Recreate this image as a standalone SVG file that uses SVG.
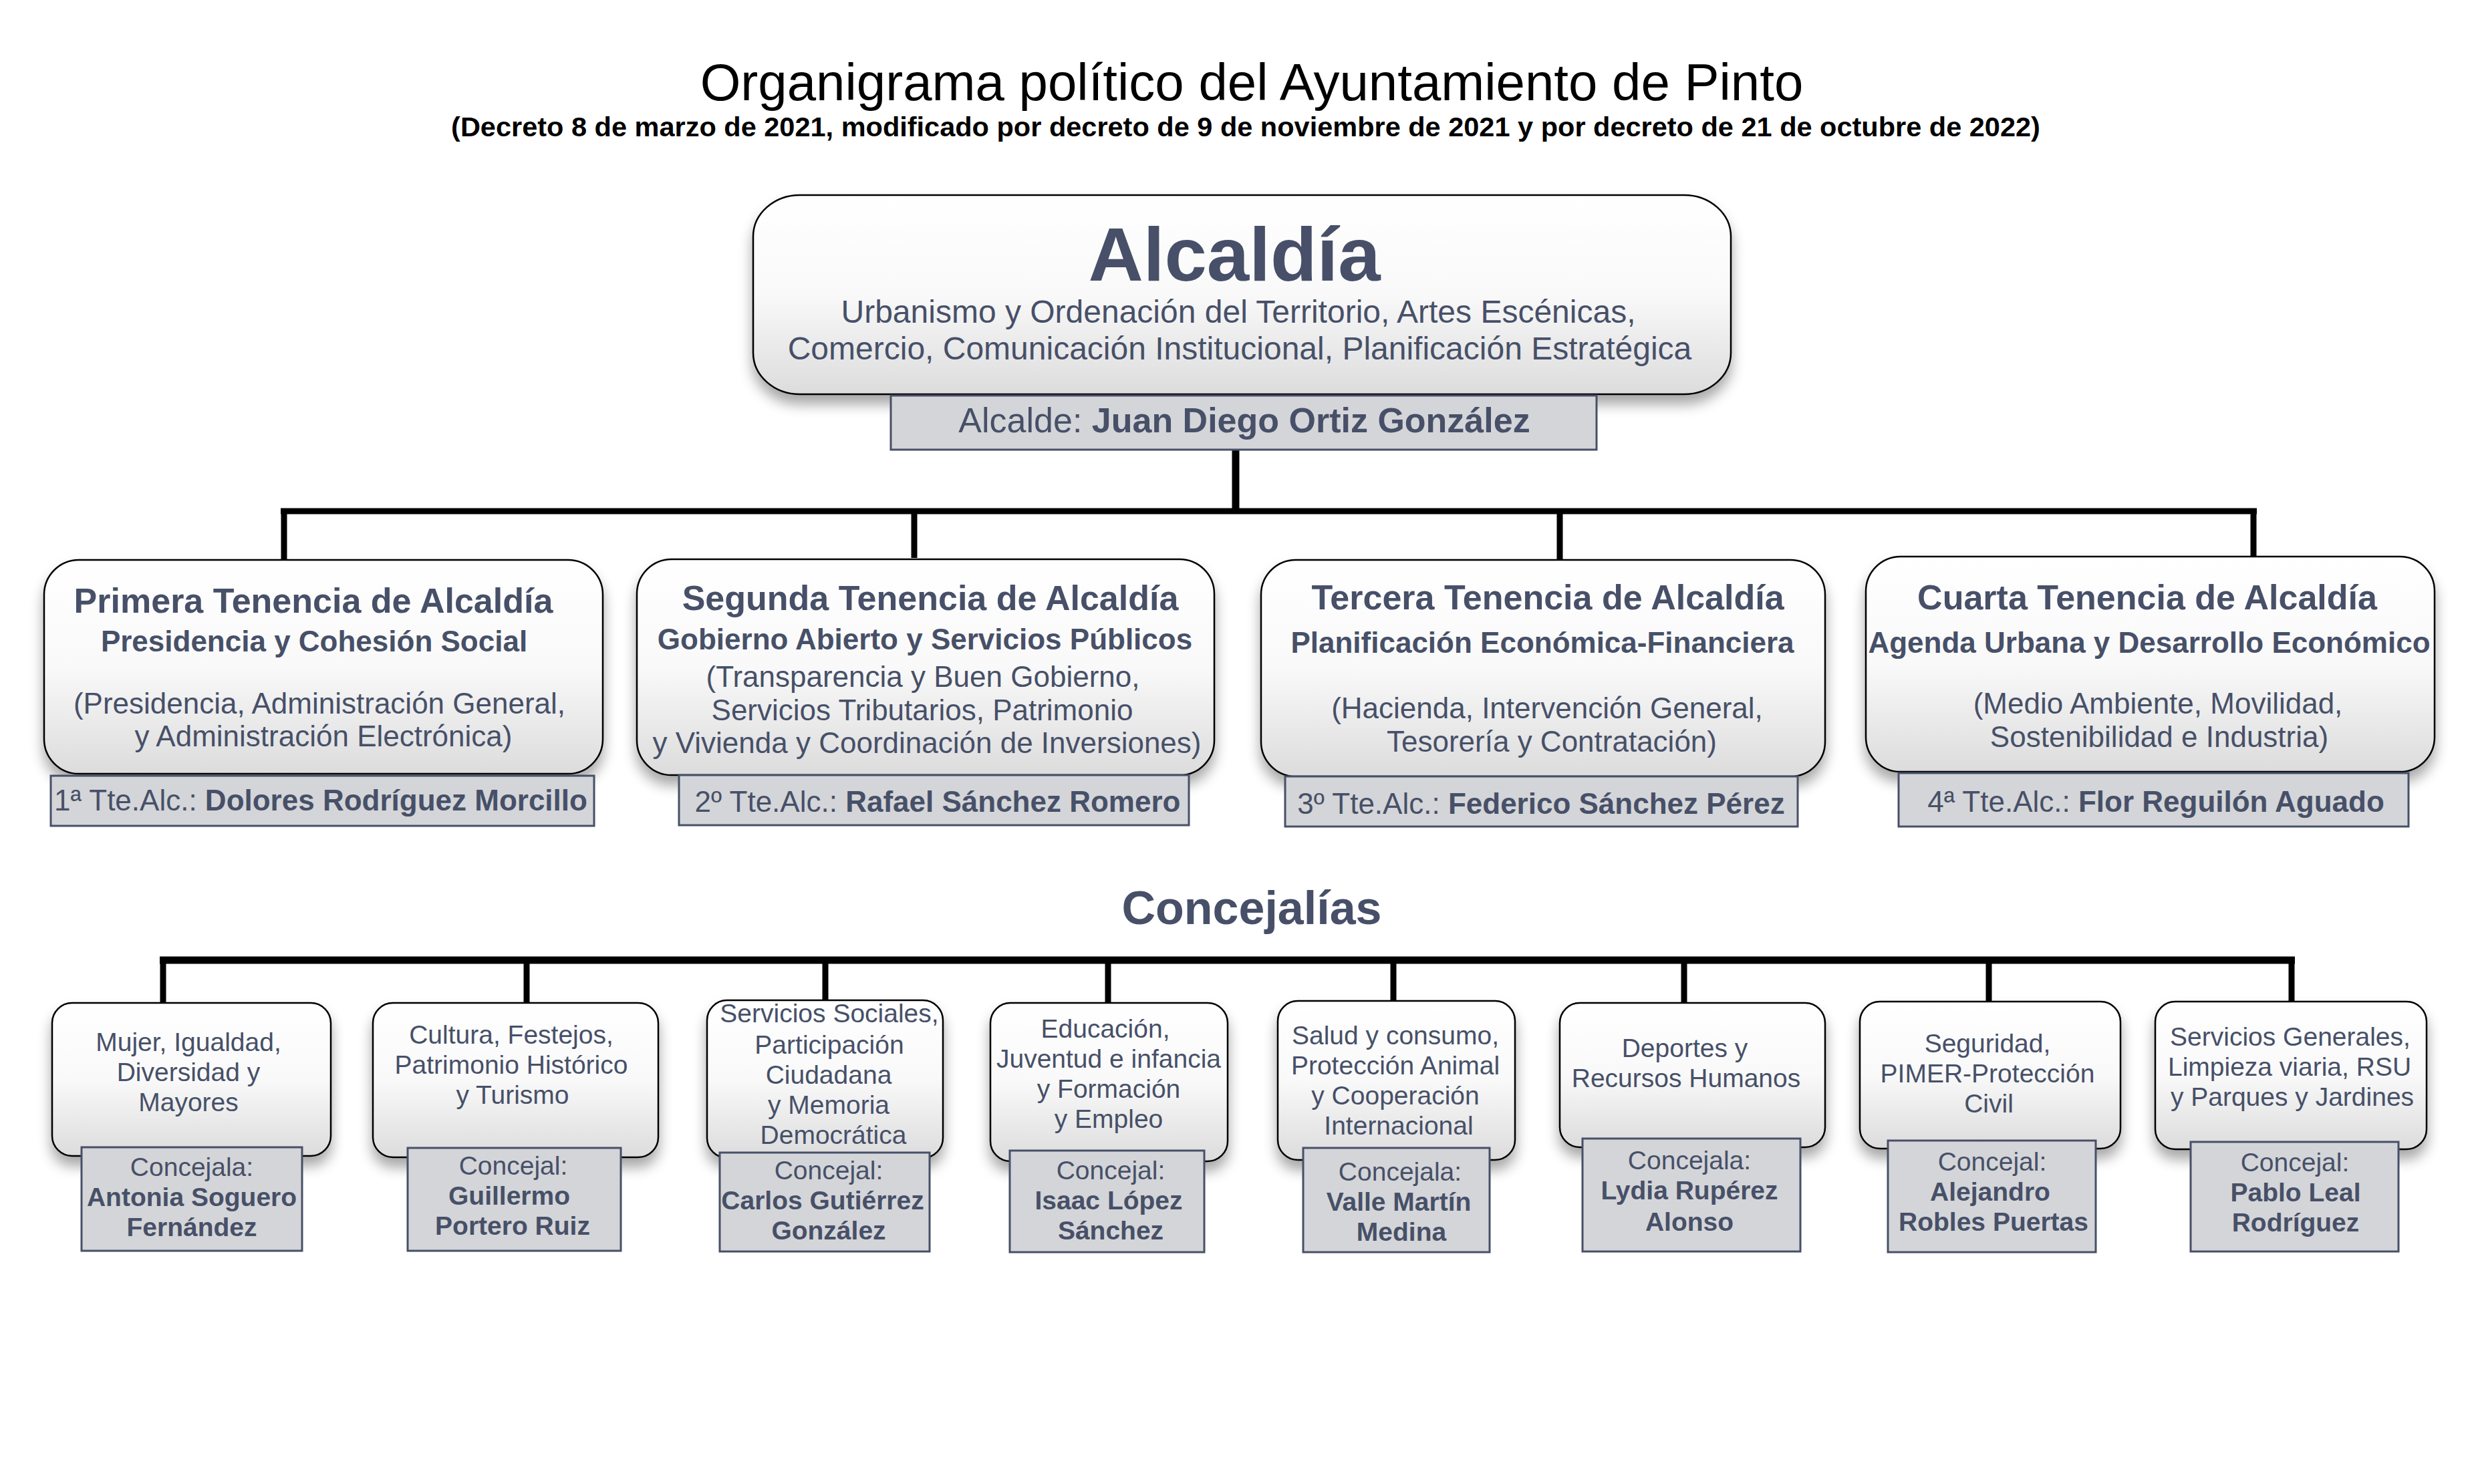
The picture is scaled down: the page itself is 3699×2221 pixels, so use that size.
<svg xmlns="http://www.w3.org/2000/svg" width="3699" height="2221" viewBox="0 0 3699 2221">
<defs>
<linearGradient id="g" x1="0" y1="0" x2="0" y2="1">
<stop offset="0" stop-color="#ffffff"/>
<stop offset="0.5" stop-color="#f9f9f9"/>
<stop offset="1" stop-color="#dcdcdd"/>
</linearGradient>
<filter id="sh" x="-10%" y="-10%" width="120%" height="130%">
<feGaussianBlur in="SourceAlpha" stdDeviation="10"/>
<feOffset dx="0" dy="14" result="b"/>
<feComponentTransfer><feFuncA type="linear" slope="0.35"/></feComponentTransfer>
<feMerge><feMergeNode/><feMergeNode in="SourceGraphic"/></feMerge>
</filter>
</defs>
<style>
text{font-family:"Liberation Sans",Arial,sans-serif;fill:#475068;text-anchor:middle}
.box{fill:url(#g);stroke:#000;stroke-width:2.5;filter:url(#sh)}
.nb{fill:#d4d5d8;stroke:#475068;stroke-width:3}
.b{font-weight:bold}
.t1{font-size:78px;fill:#000}
.t2{font-size:41.5px;font-weight:bold;fill:#000}
.big{font-size:114px;font-weight:bold}
.al{font-size:48px}
.an{font-size:52px}
.tt{font-size:52px;font-weight:bold}
.ts{font-size:44px;font-weight:bold}
.tb{font-size:44px}
.c{font-size:39px}
.ct{font-size:70px;font-weight:bold}
.ln{stroke:#000;fill:none}
</style>
<rect width="3699" height="2221" fill="#fff"/>
<text class="t1" x="1873" y="150">Organigrama político del Ayuntamiento de Pinto</text>
<text class="t2" x="1864" y="204">(Decreto 8 de marzo de 2021, modificado por decreto de 9 de noviembre de 2021 y por decreto de 21 de octubre de 2022)</text>

<g id="connectors">
<path class="ln" stroke-width="11" d="M1849 673V765"/>
<path class="ln" stroke-width="9" d="M420 765H3377"/>
<path class="ln" stroke-width="9" d="M425 765V837M1368 765V835M2334 765V838M3372 765V833"/>
<path class="ln" stroke-width="11" d="M239 1437H3434"/>
<path class="ln" stroke-width="9" d="M244 1437V1501M788 1437V1501M1235 1437V1497M1658 1437V1501M2085 1437V1498M2520 1437V1501M2976 1437V1499M3429 1437V1499"/>
</g>

<g id="alcaldia">
<rect class="box" x="1127" y="292" width="1463" height="298" rx="70" ry="62"/>
<text class="big" x="1847" y="420">Alcaldía</text>
<text class="al" x="1853" y="483">Urbanismo y Ordenación del Territorio, Artes Escénicas,</text>
<text class="al" x="1855" y="538">Comercio, Comunicación Institucional, Planificación Estratégica</text>
<rect class="nb" x="1333" y="592" width="1056" height="81"/>
<text class="an" x="1862" y="647">Alcalde: <tspan class="b">Juan Diego Ortiz González</tspan></text>
</g>

<g id="tenencia1">
<rect class="box" x="66" y="838" width="836" height="320" rx="52" ry="52"/>
<text class="tt" x="469" y="917">Primera Tenencia de Alcaldía</text>
<text class="ts" x="470" y="975">Presidencia y Cohesión Social</text>
<text class="tb" x="478" y="1068">(Presidencia, Administración General,</text>
<text class="tb" x="484" y="1117">y Administración Electrónica)</text>
<rect class="nb" x="76" y="1161" width="813" height="75"/>
<text class="tb" x="480" y="1213">1ª Tte.Alc.: <tspan class="b">Dolores Rodríguez Morcillo</tspan></text>
</g>

<g id="tenencia2">
<rect class="box" x="953" y="837" width="864" height="323" rx="52" ry="52"/>
<text class="tt" x="1392" y="913">Segunda Tenencia de Alcaldía</text>
<text class="ts" x="1384" y="972">Gobierno Abierto y Servicios Públicos</text>
<text class="tb" x="1381" y="1028">(Transparencia y Buen Gobierno,</text>
<text class="tb" x="1380" y="1078">Servicios Tributarios, Patrimonio</text>
<text class="tb" x="1387" y="1127">y Vivienda y Coordinación de Inversiones)</text>
<rect class="nb" x="1016" y="1160" width="763" height="75"/>
<text class="tb" x="1403" y="1215">2º Tte.Alc.: <tspan class="b">Rafael Sánchez Romero</tspan></text>
</g>

<g id="tenencia3">
<rect class="box" x="1887" y="838" width="844" height="324" rx="52" ry="52"/>
<text class="tt" x="2316" y="912">Tercera Tenencia de Alcaldía</text>
<text class="ts" x="2308" y="977">Planificación Económica-Financiera</text>
<text class="tb" x="2315" y="1075">(Hacienda, Intervención General,</text>
<text class="tb" x="2322" y="1125">Tesorería y Contratación)</text>
<rect class="nb" x="1923" y="1162" width="767" height="75"/>
<text class="tb" x="2306" y="1218">3º Tte.Alc.: <tspan class="b">Federico Sánchez Pérez</tspan></text>
</g>

<g id="tenencia4">
<rect class="box" x="2792" y="833" width="851" height="322" rx="52" ry="52"/>
<text class="tt" x="3213" y="912">Cuarta Tenencia de Alcaldía</text>
<text class="ts" x="3216" y="977">Agenda Urbana y Desarrollo Económico</text>
<text class="tb" x="3229" y="1068">(Medio Ambiente, Movilidad,</text>
<text class="tb" x="3231" y="1118">Sostenibilidad e Industria)</text>
<rect class="nb" x="2841" y="1157" width="763" height="80"/>
<text class="tb" x="3226" y="1215">4ª Tte.Alc.: <tspan class="b">Flor Reguilón Aguado</tspan></text>
</g>

<text class="ct" x="1873" y="1383">Concejalías</text>

<g id="concejalia1">
<rect class="box" x="78" y="1501" width="417" height="229" rx="30" ry="30"/>
<text class="c" x="282" y="1573">Mujer, Igualdad,</text>
<text class="c" x="282" y="1618">Diversidad y</text>
<text class="c" x="282" y="1663">Mayores</text>
<rect class="nb" x="122" y="1717" width="330" height="155"/>
<text class="c" x="287" y="1760">Concejala:</text>
<text class="c b" x="287" y="1805">Antonia Soguero</text>
<text class="c b" x="287" y="1850">Fernández</text>
</g>

<g id="concejalia2">
<rect class="box" x="558" y="1501" width="427" height="231" rx="30" ry="30"/>
<text class="c" x="765" y="1562">Cultura, Festejos,</text>
<text class="c" x="765" y="1607">Patrimonio Histórico</text>
<text class="c" x="767" y="1652">y Turismo</text>
<rect class="nb" x="610" y="1718" width="319" height="154"/>
<text class="c" x="768" y="1758">Concejal:</text>
<text class="c b" x="762" y="1803">Guillermo</text>
<text class="c b" x="767" y="1848">Portero Ruiz</text>
</g>

<g id="concejalia3">
<rect class="box" x="1058" y="1497" width="353" height="236" rx="30" ry="30"/>
<text class="c" x="1241" y="1530">Servicios Sociales,</text>
<text class="c" x="1241" y="1577">Participación</text>
<text class="c" x="1240" y="1622">Ciudadana</text>
<text class="c" x="1240" y="1667">y Memoria</text>
<text class="c" x="1247" y="1712">Democrática</text>
<rect class="nb" x="1077" y="1725" width="314" height="148"/>
<text class="c" x="1240" y="1765">Concejal:</text>
<text class="c b" x="1231" y="1810">Carlos Gutiérrez</text>
<text class="c b" x="1240" y="1855">González</text>
</g>

<g id="concejalia4">
<rect class="box" x="1482" y="1501" width="355" height="237" rx="30" ry="30"/>
<text class="c" x="1654" y="1553">Educación,</text>
<text class="c" x="1659" y="1598">Juventud e infancia</text>
<text class="c" x="1659" y="1643">y Formación</text>
<text class="c" x="1659" y="1688">y Empleo</text>
<rect class="nb" x="1511" y="1722" width="291" height="152"/>
<text class="c" x="1662" y="1765">Concejal:</text>
<text class="c b" x="1659" y="1810">Isaac López</text>
<text class="c b" x="1662" y="1855">Sánchez</text>
</g>

<g id="concejalia5">
<rect class="box" x="1912" y="1498" width="355" height="238" rx="30" ry="30"/>
<text class="c" x="2088" y="1563">Salud y consumo,</text>
<text class="c" x="2088" y="1608">Protección Animal</text>
<text class="c" x="2088" y="1653">y Cooperación</text>
<text class="c" x="2093" y="1698">Internacional</text>
<rect class="nb" x="1950" y="1718" width="279" height="156"/>
<text class="c" x="2095" y="1767">Concejala:</text>
<text class="c b" x="2093" y="1812">Valle Martín</text>
<text class="c b" x="2097" y="1857">Medina</text>
</g>

<g id="concejalia6">
<rect class="box" x="2334" y="1501" width="397" height="216" rx="30" ry="30"/>
<text class="c" x="2521" y="1582">Deportes y</text>
<text class="c" x="2523" y="1627">Recursos Humanos</text>
<rect class="nb" x="2368" y="1704" width="326" height="169"/>
<text class="c" x="2528" y="1750">Concejala:</text>
<text class="c b" x="2528" y="1795">Lydia Rupérez</text>
<text class="c b" x="2528" y="1842">Alonso</text>
</g>

<g id="concejalia7">
<rect class="box" x="2783" y="1499" width="390" height="220" rx="30" ry="30"/>
<text class="c" x="2974" y="1575">Seguridad,</text>
<text class="c" x="2974" y="1620">PIMER-Protección</text>
<text class="c" x="2976" y="1665">Civil</text>
<rect class="nb" x="2825" y="1707" width="311" height="167"/>
<text class="c" x="2981" y="1752">Concejal:</text>
<text class="c b" x="2978" y="1797">Alejandro</text>
<text class="c b" x="2983" y="1842">Robles Puertas</text>
</g>

<g id="concejalia8">
<rect class="box" x="3225" y="1499" width="406" height="221" rx="30" ry="30"/>
<text class="c" x="3427" y="1565">Servicios Generales,</text>
<text class="c" x="3426" y="1610">Limpieza viaria, RSU</text>
<text class="c" x="3430" y="1655">y Parques y Jardines</text>
<rect class="nb" x="3278" y="1709" width="311" height="164"/>
<text class="c" x="3434" y="1753">Concejal:</text>
<text class="c b" x="3435" y="1798">Pablo Leal</text>
<text class="c b" x="3435" y="1843">Rodríguez</text>
</g>
</svg>
